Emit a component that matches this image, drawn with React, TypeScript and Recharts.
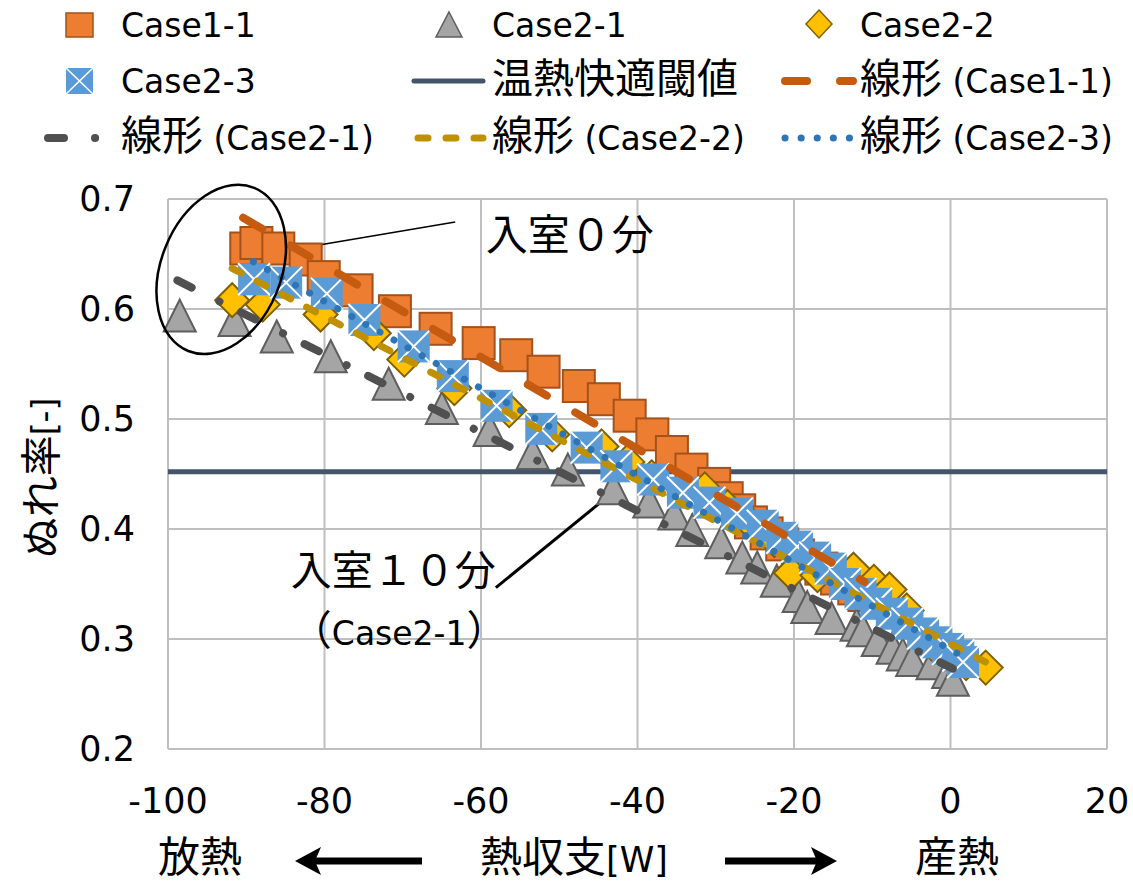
import React from 'react';
import {
  CartesianGrid,
  ReferenceDot,
  ReferenceLine,
  Scatter,
  ScatterChart,
  XAxis,
  YAxis,
} from 'recharts';

const LATIN = '"DejaVu Sans", sans-serif';
const CJK_FONT = '"Noto Sans CJK JP", sans-serif';

// Case1-1 (orange squares)
const case11X = [-90.0, -88.7, -85.9, -82.4, -80.1, -75.9, -71.0, -65.8, -60.3, -55.5, -52.0, -47.5, -44.3, -41.0, -38.1, -35.6, -33.1, -30.2, -28.6, -27.0, -25.5, -23.5, -21.5, -19.5, -18.0, -16.5, -14.5, -12.3, -11.0];
const case11Y = [0.655, 0.660, 0.655, 0.645, 0.629, 0.617, 0.598, 0.582, 0.569, 0.558, 0.543, 0.530, 0.518, 0.503, 0.486, 0.470, 0.454, 0.441, 0.428, 0.417, 0.406, 0.396, 0.386, 0.376, 0.370, 0.364, 0.355, 0.346, 0.340];

// Case2-1 (grey triangles)
const case21X = [-98.5, -91.5, -86.1, -79.2, -71.8, -65.0, -58.9, -53.4, -48.9, -43.1, -38.5, -35.3, -33.0, -29.3, -26.6, -24.7, -22.2, -19.4, -18.3, -15.2, -12.0, -11.2, -9.3, -7.4, -6.1, -4.9, -2.3, -0.3, 0.3];
const case21Y = [0.594, 0.590, 0.575, 0.557, 0.532, 0.510, 0.490, 0.469, 0.454, 0.437, 0.425, 0.414, 0.399, 0.388, 0.374, 0.365, 0.353, 0.339, 0.329, 0.319, 0.313, 0.308, 0.299, 0.292, 0.286, 0.281, 0.278, 0.270, 0.263];

// Case2-2 (yellow diamonds)
const case22X = [-91.8, -87.9, -80.5, -73.7, -69.8, -63.4, -56.4, -50.9, -44.6, -41.3, -38.2, -31.4, -28.5, -25.5, -22.5, -20.4, -17.0, -12.4, -9.8, -7.8, -5.6, -4.0, -2.0, 0.5, 2.0, 4.5];
const case22Y = [0.608, 0.604, 0.595, 0.578, 0.554, 0.528, 0.508, 0.486, 0.475, 0.461, 0.447, 0.436, 0.420, 0.405, 0.390, 0.360, 0.358, 0.363, 0.352, 0.345, 0.326, 0.305, 0.293, 0.283, 0.278, 0.274];

// Case2-3 (blue squares with cross)
const case23X = [-89.0, -84.9, -79.7, -74.9, -68.6, -63.6, -58.0, -52.3, -46.5, -42.7, -38.0, -34.2, -30.8, -27.3, -24.0, -21.5, -19.6, -17.3, -15.3, -13.5, -11.5, -9.5, -7.5, -5.5, -3.5, -1.8, -0.3, 1.0, 1.6];
const case23Y = [0.627, 0.624, 0.614, 0.590, 0.566, 0.539, 0.512, 0.491, 0.474, 0.457, 0.445, 0.433, 0.424, 0.414, 0.403, 0.392, 0.384, 0.374, 0.364, 0.350, 0.341, 0.332, 0.323, 0.314, 0.305, 0.297, 0.291, 0.285, 0.279];

// linear trend endpoints
const trend11X = [-90.4, -11.0];
const trend11Y = [0.683, 0.352];
const trend21X = [-98.8, 0.3];
const trend21Y = [0.626, 0.273];
const trend22X = [-91.8, 4.5];
const trend22Y = [0.637, 0.279];
const trend23X = [-89.1, 1.6];
const trend23Y = [0.643, 0.284];

// 温熱快適閾値
const thresholdX = [-100, 20];
const thresholdY = [0.452, 0.452];

const xTicks = [-100, -80, -60, -40, -20, 0, 20];
const yTicks = [0.2, 0.3, 0.4, 0.5, 0.6, 0.7];

const legendLabels = [
  'Case1-1', 'Case2-1', 'Case2-2',
  'Case2-3', '温熱快適閾値', '線形 (Case1-1)',
  '線形 (Case2-1)', '線形 (Case2-2)', '線形 (Case2-3)',
];

const toPoints = (xs: number[], ys: number[]) => xs.map((x, i) => ({ x, y: ys[i] }));

const ORANGE_DASH = { stroke: '#C55A11', strokeWidth: 8, strokeDasharray: '22 33', strokeLinecap: 'round' as const };
const GREY_DASHDOT = { stroke: '#505050', strokeWidth: 8, strokeDasharray: '16 31 0.1 24', strokeLinecap: 'round' as const };
const YELLOW_DASH = { stroke: '#BF9000', strokeWidth: 7, strokeDasharray: '10 18', strokeLinecap: 'round' as const };
const BLUE_DOT = { stroke: '#2E75B6', strokeWidth: 7, strokeDasharray: '0.1 16', strokeLinecap: 'round' as const };

const isCjk = (c: string) => /[\u3000-\u30ff\u3400-\u9fff\uff00-\uffef]/.test(c);

function splitRuns(s: string) {
  const out: { t: string; cjk: boolean }[] = [];
  for (const ch of s) {
    const c = isCjk(ch);
    const last = out[out.length - 1];
    if (last && last.cjk === c) last.t += ch;
    else out.push({ t: ch, cjk: c });
  }
  return out;
}

function MixedText({ x, y, text, latinSize = 33, cjkSize = 41, anchor = 'start', transform }: any) {
  return (
    <text x={x} y={y} textAnchor={anchor} fill="#000" transform={transform} style={{ whiteSpace: 'pre' }}>
      {splitRuns(text).map((r, i) => (
        <tspan key={i} fontFamily={r.cjk ? CJK_FONT : LATIN} fontSize={r.cjk ? cjkSize : latinSize}>
          {r.t}
        </tspan>
      ))}
    </text>
  );
}

const SquareShape = (p: any) => (
  <rect x={p.cx - 16} y={p.cy - 16} width={32} height={32} fill="#ED7D31" stroke="#A4521C" strokeWidth={2} />
);
const TriangleShape = (p: any) => (
  <polygon
    points={`${p.cx},${p.cy - 16} ${p.cx + 16},${p.cy + 16} ${p.cx - 16},${p.cy + 16}`}
    fill="#A5A5A5"
    stroke="#5E5E5E"
    strokeWidth={2}
  />
);
const DiamondShape = (p: any) => (
  <polygon
    points={`${p.cx},${p.cy - 17} ${p.cx + 17},${p.cy} ${p.cx},${p.cy + 17} ${p.cx - 17},${p.cy}`}
    fill="#FFC000"
    stroke="#7F6000"
    strokeWidth={2}
  />
);
const XSquareShape = (p: any) => (
  <g>
    <rect x={p.cx - 16} y={p.cy - 16} width={32} height={32} fill="#5B9BD5" />
    <path
      d={`M${p.cx - 16},${p.cy - 16}L${p.cx + 16},${p.cy + 16}M${p.cx + 16},${p.cy - 16}L${p.cx - 16},${p.cy + 16}`}
      stroke="#fff"
      strokeWidth={2}
    />
  </g>
);
const NoShape = () => <g />;

function Legend() {
  const rows = [25, 81, 138];
  const textX = [121, 492, 860];
  return (
    <g>
      {/* markers */}
      <rect x={66} y={13} width={27} height={24} fill="#ED7D31" stroke="#A4521C" strokeWidth={1.5} />
      <polygon points="449,12 462,37 436,37" fill="#A5A5A5" stroke="#5E5E5E" strokeWidth={1.5} />
      <polygon points="819,10 832,24 819,38 806,24" fill="#FFC000" stroke="#7F6000" strokeWidth={1.5} />
      <rect x={66} y={68} width={27} height={26} fill="#5B9BD5" />
      <path d="M66,68L93,94M93,68L66,94" stroke="#fff" strokeWidth={1.5} />
      {/* lines */}
      <line x1={414} x2={483} y1={81} y2={81} stroke="#44546A" strokeWidth={5} strokeLinecap="round" />
      <line x1={785} x2={853} y1={81} y2={81} {...ORANGE_DASH} />
      <line x1={48} x2={100} y1={138} y2={138} {...GREY_DASHDOT} />
      <line x1={418} x2={483} y1={138} y2={138} {...YELLOW_DASH} />
      <line x1={785} x2={853} y1={138} y2={138} {...BLUE_DOT} />
      {legendLabels.map((lab, i) => (
        <MixedText key={lab} x={textX[i % 3]} y={rows[Math.floor(i / 3)] + 12} text={lab} />
      ))}
    </g>
  );
}

function ArrowLeft({ x1, x2, y }: any) {
  return (
    <g>
      <line x1={x1 + 18} x2={x2} y1={y} y2={y} stroke="#000" strokeWidth={7} />
      <path d={`M${x1},${y} L${x1 + 26},${y - 14} L${x1 + 20},${y} L${x1 + 26},${y + 14} Z`} fill="#000" />
    </g>
  );
}
function ArrowRight({ x1, x2, y }: any) {
  return (
    <g>
      <line x1={x1} x2={x2 - 18} y1={y} y2={y} stroke="#000" strokeWidth={7} />
      <path d={`M${x2},${y} L${x2 - 26},${y - 14} L${x2 - 20},${y} L${x2 - 26},${y + 14} Z`} fill="#000" />
    </g>
  );
}

export default function App() {
  return (
    <div style={{ position: 'absolute', left: 0, top: 0, width: 1133, height: 885, background: '#fff' }}>
      <ScatterChart width={1133} height={885} margin={{ top: 199, right: 26, bottom: 76, left: 68 }}>
        <CartesianGrid stroke="#BFBFBF" strokeWidth={2} />
        <XAxis
          type="number"
          dataKey="x"
          domain={[-100, 20]}
          ticks={xTicks}
          height={60}
          axisLine={false}
          tickLine={false}
          tickSize={0}
          tickMargin={39}
          tick={{ fontSize: 35, fontFamily: LATIN, fill: '#000' }}
        />
        <YAxis
          type="number"
          dataKey="y"
          domain={[0.2, 0.7]}
          ticks={yTicks}
          width={100}
          axisLine={false}
          tickLine={false}
          tickSize={0}
          tickMargin={33}
          tickFormatter={(v: number) => v.toFixed(1)}
          tick={{ fontSize: 35, fontFamily: LATIN, fill: '#000' }}
        />
        <Scatter
          data={toPoints(thresholdX, thresholdY)}
          shape={NoShape}
          line={{ stroke: '#44546A', strokeWidth: 5 }}
          legendType="none"
          isAnimationActive={false}
        />
        <Scatter data={toPoints(case11X, case11Y)} shape={SquareShape} isAnimationActive={false} />
        <Scatter data={toPoints(case21X, case21Y)} shape={TriangleShape} isAnimationActive={false} />
        <Scatter data={toPoints(case22X, case22Y)} shape={DiamondShape} isAnimationActive={false} />
        <Scatter data={toPoints(case23X, case23Y)} shape={XSquareShape} isAnimationActive={false} />
        <Scatter data={toPoints(trend11X, trend11Y)} shape={NoShape} line={ORANGE_DASH} isAnimationActive={false} />
        <Scatter data={toPoints(trend21X, trend21Y)} shape={NoShape} line={GREY_DASHDOT} isAnimationActive={false} />
        <Scatter data={toPoints(trend22X, trend22Y)} shape={NoShape} line={YELLOW_DASH} isAnimationActive={false} />
        <Scatter data={toPoints(trend23X, trend23Y)} shape={NoShape} line={BLUE_DOT} isAnimationActive={false} />
        {/* annotations */}
        <ReferenceDot
          x={-93.2}
          y={0.636}
          shape={(p: any) => (
            <ellipse
              cx={p.cx}
              cy={p.cy}
              rx={60}
              ry={88}
              transform={`rotate(22 ${p.cx} ${p.cy})`}
              fill="none"
              stroke="#000"
              strokeWidth={2.5}
            />
          )}
        />
        <ReferenceLine
          segment={[{ x: -84.1, y: 0.654 }, { x: -63.3, y: 0.679 }]}
          stroke="#000"
          strokeWidth={1.5}
        />
        <ReferenceLine
          segment={[{ x: -58.1, y: 0.3467 }, { x: -43.2, y: 0.433 }]}
          stroke="#000"
          strokeWidth={3}
        />
        <ReferenceDot
          x={-59.4}
          y={0.654}
          shape={(p: any) => <MixedText x={p.cx} y={p.cy} text="入室０分" cjkSize={42} />}
        />
        <ReferenceDot
          x={-84.3}
          y={0.3494}
          shape={(p: any) => <MixedText x={p.cx} y={p.cy} text="入室１０分" cjkSize={41} />}
        />
        <ReferenceDot
          x={-84.3}
          y={0.2948}
          shape={(p: any) => <MixedText x={p.cx} y={p.cy} text="（Case2-1）" cjkSize={41} latinSize={33} />}
        />
      </ScatterChart>
      <svg
        width={1133}
        height={885}
        style={{ position: 'absolute', left: 0, top: 0, pointerEvents: 'none' }}
      >
        <Legend />
        <MixedText x={56} y={478} anchor="middle" text="ぬれ率[-]" transform="rotate(-90 56 478)" />
        <MixedText x={200} y={872} anchor="middle" text="放熱" cjkSize={42} />
        <ArrowLeft x1={295} x2={422} y={861} />
        <MixedText x={574} y={872} anchor="middle" text="熱収支[W]" cjkSize={42} latinSize={35} />
        <ArrowRight x1={725} x2={837} y={861} />
        <MixedText x={957} y={872} anchor="middle" text="産熱" cjkSize={42} />
      </svg>
    </div>
  );
}
